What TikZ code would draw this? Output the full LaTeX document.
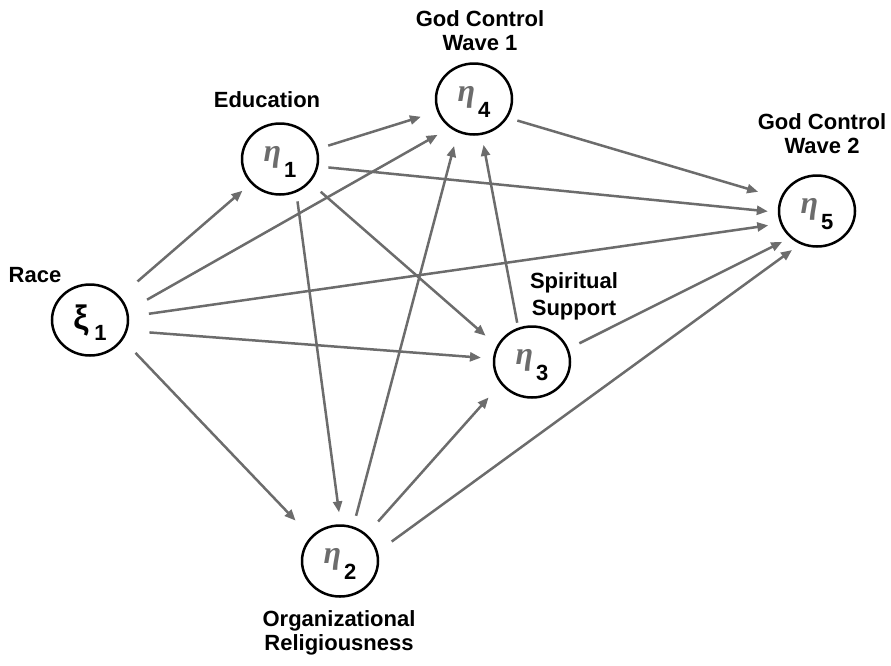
\documentclass[tikz,border=0pt]{standalone}
\usepackage{fontspec}
\setmainfont{Liberation Sans}
\newfontfamily\etafont{Liberation Serif}
\usetikzlibrary{arrows.meta,positioning,shapes.geometric}

\definecolor{pathgray}{RGB}{108,108,108}

\tikzset{
  latent/.style={shape=ellipse,draw=black,line width=2.5pt,minimum width=76pt,
    minimum height=71pt,inner sep=0pt,text height=15pt,text depth=10pt},
  lbl/.style={font=\fontsize{22}{24}\selectfont\bfseries,align=center},
  effect/.style={draw=pathgray,line width=2.5pt,-{Triangle[length=11pt,width=9pt]}}
}

\newcommand{\etavar}[1]{{\etafont\bfseries\itshape\fontsize{32}{32}\selectfont\color{pathgray}η}\kern3pt\raisebox{-16pt}{\fontsize{22}{22}\selectfont\bfseries #1}}
\newcommand{\xivar}[1]{{\fontsize{34}{34}\selectfont\bfseries ξ}\kern6pt\raisebox{-11pt}{\fontsize{22}{22}\selectfont\bfseries #1}}

\begin{document}
\begin{tikzpicture}[x=1pt,y=-1pt]
\useasboundingbox (0,0) rectangle (891,665);

\node[latent,text height=24pt,text depth=5pt] (x1) at (90,320){\xivar{1}};
\node[latent] (e1) at (280,159){\etavar{1}};
\node[latent] (e2) at (340,561){\etavar{2}};
\node[latent] (e3) at (532,362){\etavar{3}};
\node[latent] (e4) at (474,99){\etavar{4}};
\node[latent] (e5) at (817,211){\etavar{5}};

\node[lbl] (racelbl) at (35,275){Race};
\node[lbl] (edulbl) at (267,100){Education};
\node[lbl] (god1lbl) at (480,31){God Control\\Wave 1};
\node[lbl] (god2lbl) at (822,134){God Control\\Wave 2};
\node[lbl] (spirlbl) at (574,296){Spiritual\\[3pt]Support};
\node[lbl] (orglbl) at (339,633){Organizational\\Religiousness};

\draw[effect,shorten <=23pt,shorten >=11pt] (x1.38) -- (e1.220);
\draw[effect,shorten <=22pt,shorten >=14pt] (x1.14) -- (e4.230);
\draw[effect,shorten <=20pt,shorten >=12pt] (x1.5) -- (e5.199);
\draw[effect,shorten <=22pt,shorten >=12pt] (x1.-16) -- (e3.175);
\draw[effect,shorten <=18pt,shorten >=22pt] (x1.-31) -- (e2.140);
\draw[effect,shorten <=11pt,shorten >=17pt] (e1.15) -- (e4.199);
\draw[effect,shorten <=10pt,shorten >=10pt] (e1.-11) -- (e5.182);
\draw[effect,shorten <=14pt,shorten >=15pt] (e1.-38) -- (e3.155);
\draw[effect,shorten <=9pt,shorten >=12pt] (e1.-64) -- (e2.89);
\draw[effect,shorten <=11pt,shorten >=14pt] (e2.69) -- (e4.244);
\draw[effect,shorten <=17pt,shorten >=18pt] (e2.45) -- (e3.215);
\draw[effect,shorten <=17pt,shorten >=10pt] (e2.14) -- (e5.243);
\draw[effect,shorten <=5pt,shorten >=10pt] (e3.112) -- (e4.282);
\draw[effect,shorten <=12pt,shorten >=9pt] (e3.20) -- (e5.225);
\draw[effect,shorten <=10pt,shorten >=23pt] (e4.-29) -- (e5.161);

\end{tikzpicture}
\end{document}
